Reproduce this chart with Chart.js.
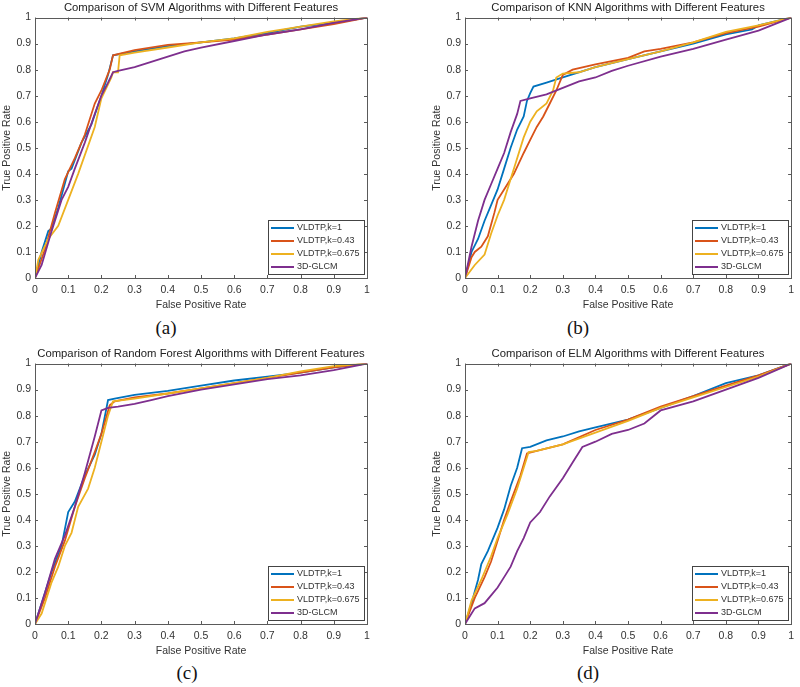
<!DOCTYPE html>
<html>
<head>
<meta charset="utf-8">
<script src="https://cdn.jsdelivr.net/npm/chart.js@4.4.0/dist/chart.umd.min.js"></script>
<style>
  body { margin: 0; background: #fff; width: 800px; height: 687px; position: relative; overflow: hidden; }
  .panel { position: absolute; width: 400px; height: 315px; }
  .cap { position: absolute; font-family: "Liberation Serif", "Times New Roman", serif; font-size: 19px; color: #111; transform: translate(-50%, -50%); }
</style>
</head>
<body>
<div class="panel" style="left:0;top:0"><canvas id="svm"></canvas></div>
<div class="panel" style="left:400px;top:0"><canvas id="knn"></canvas></div>
<div class="panel" style="left:0;top:346px"><canvas id="rf"></canvas></div>
<div class="panel" style="left:400px;top:346px"><canvas id="elm"></canvas></div>
<div class="cap" style="left:166px;top:328px">(a)</div>
<div class="cap" style="left:578px;top:328px">(b)</div>
<div class="cap" style="left:187px;top:673px">(c)</div>
<div class="cap" style="left:588px;top:673px">(d)</div>

<script>
// legend names, same for all four plots
const seriesNames = ['VLDTP,k=1', 'VLDTP,k=0.43', 'VLDTP,k=0.675', '3D-GLCM'];
const seriesColors = ['#0072BD', '#D95319', '#EDB120', '#7E2F8E'];

// axis ticks (both axes)
const rateTicks = [0, 0.1, 0.2, 0.3, 0.4, 0.5, 0.6, 0.7, 0.8, 0.9, 1];
const rateLabels = ['0', '0.1', '0.2', '0.3', '0.4', '0.5', '0.6', '0.7', '0.8', '0.9', '1'];

// ROC points [false positive rate, true positive rate]

// (a) SVM
const svmK1 = [[0,0],[0.02,0.1],[0.04,0.18],[0.05,0.19],[0.07,0.27],[0.1,0.41],[0.11,0.42],[0.14,0.52],[0.17,0.59],[0.2,0.7],[0.22,0.78],[0.235,0.855],[0.3,0.87],[0.4,0.89],[0.5,0.905],[0.6,0.92],[0.7,0.94],[0.8,0.965],[0.9,0.98],[1,1]];
const svmK043 = [[0,0],[0.03,0.11],[0.06,0.25],[0.09,0.38],[0.12,0.46],[0.15,0.55],[0.18,0.67],[0.2,0.72],[0.225,0.8],[0.235,0.855],[0.3,0.875],[0.4,0.895],[0.5,0.905],[0.6,0.915],[0.7,0.935],[0.8,0.955],[0.9,0.975],[1,1]];
const svmK0675 = [[0,0],[0.01,0.07],[0.04,0.15],[0.07,0.2],[0.1,0.3],[0.13,0.4],[0.18,0.58],[0.2,0.69],[0.23,0.77],[0.235,0.79],[0.25,0.79],[0.255,0.855],[0.3,0.865],[0.4,0.885],[0.5,0.905],[0.6,0.92],[0.7,0.945],[0.8,0.965],[0.9,0.985],[1,1]];
const svmGlcm = [[0,0],[0.02,0.05],[0.05,0.18],[0.08,0.3],[0.1,0.35],[0.12,0.42],[0.15,0.52],[0.18,0.63],[0.2,0.7],[0.22,0.75],[0.235,0.79],[0.25,0.795],[0.3,0.81],[0.35,0.83],[0.4,0.85],[0.45,0.87],[0.5,0.885],[0.6,0.91],[0.7,0.935],[0.8,0.955],[0.9,0.98],[1,1]];

// (b) KNN
const knnK1 = [[0,0],[0.02,0.1],[0.04,0.15],[0.06,0.22],[0.08,0.28],[0.1,0.34],[0.12,0.42],[0.14,0.5],[0.16,0.57],[0.18,0.62],[0.19,0.68],[0.2,0.71],[0.21,0.735],[0.25,0.75],[0.3,0.77],[0.4,0.81],[0.5,0.84],[0.6,0.87],[0.7,0.9],[0.8,0.935],[0.88,0.955],[0.9,0.97],[1,1]];
const knnK043 = [[0,0],[0.02,0.08],[0.03,0.1],[0.05,0.12],[0.07,0.16],[0.09,0.25],[0.1,0.3],[0.12,0.34],[0.15,0.4],[0.18,0.48],[0.2,0.53],[0.22,0.58],[0.24,0.62],[0.26,0.67],[0.28,0.72],[0.3,0.78],[0.33,0.8],[0.4,0.82],[0.5,0.845],[0.55,0.87],[0.6,0.88],[0.7,0.905],[0.8,0.94],[0.9,0.965],[1,1]];
const knnK0675 = [[0,0],[0.03,0.05],[0.06,0.09],[0.08,0.17],[0.1,0.24],[0.12,0.3],[0.14,0.38],[0.16,0.46],[0.18,0.54],[0.2,0.6],[0.22,0.64],[0.25,0.67],[0.27,0.72],[0.28,0.77],[0.3,0.785],[0.35,0.79],[0.4,0.81],[0.5,0.84],[0.6,0.87],[0.7,0.905],[0.8,0.945],[0.9,0.97],[1,1]];
const knnGlcm = [[0,0],[0.02,0.12],[0.04,0.22],[0.06,0.3],[0.08,0.36],[0.1,0.42],[0.12,0.48],[0.14,0.56],[0.16,0.63],[0.17,0.68],[0.2,0.69],[0.25,0.705],[0.3,0.73],[0.35,0.755],[0.4,0.77],[0.45,0.795],[0.5,0.815],[0.6,0.85],[0.7,0.88],[0.8,0.915],[0.9,0.95],[1,1]];

// (c) Random Forest
const rfK1 = [[0,0],[0.02,0.08],[0.05,0.2],[0.08,0.3],[0.1,0.43],[0.12,0.47],[0.15,0.57],[0.18,0.65],[0.2,0.73],[0.22,0.86],[0.24,0.865],[0.3,0.88],[0.4,0.895],[0.5,0.915],[0.6,0.935],[0.7,0.95],[0.8,0.965],[0.9,0.985],[1,1]];
const rfK043 = [[0,0],[0.03,0.1],[0.06,0.22],[0.09,0.32],[0.12,0.45],[0.15,0.56],[0.18,0.66],[0.2,0.73],[0.225,0.84],[0.24,0.855],[0.3,0.87],[0.4,0.885],[0.5,0.905],[0.6,0.925],[0.7,0.945],[0.8,0.965],[0.9,0.985],[1,1]];
const rfK0675 = [[0,0],[0.02,0.04],[0.05,0.16],[0.07,0.22],[0.09,0.3],[0.11,0.35],[0.13,0.45],[0.16,0.52],[0.18,0.6],[0.2,0.7],[0.22,0.8],[0.235,0.855],[0.3,0.865],[0.4,0.885],[0.5,0.905],[0.6,0.925],[0.7,0.945],[0.8,0.97],[0.9,0.99],[1,1]];
const rfGlcm = [[0,0],[0.03,0.12],[0.06,0.25],[0.09,0.34],[0.12,0.45],[0.15,0.58],[0.18,0.72],[0.2,0.82],[0.22,0.83],[0.25,0.835],[0.3,0.845],[0.35,0.86],[0.4,0.875],[0.5,0.9],[0.6,0.92],[0.7,0.94],[0.8,0.955],[0.9,0.975],[1,1]];

// (d) ELM
const elmK1 = [[0,0],[0.02,0.08],[0.04,0.17],[0.05,0.23],[0.07,0.28],[0.1,0.37],[0.12,0.44],[0.14,0.53],[0.16,0.6],[0.175,0.675],[0.2,0.68],[0.25,0.705],[0.3,0.72],[0.35,0.74],[0.4,0.755],[0.5,0.785],[0.6,0.83],[0.7,0.875],[0.8,0.925],[0.9,0.955],[1,1]];
const elmK043 = [[0,0],[0.03,0.1],[0.06,0.18],[0.08,0.24],[0.1,0.32],[0.12,0.4],[0.14,0.47],[0.17,0.57],[0.19,0.655],[0.22,0.665],[0.3,0.69],[0.4,0.745],[0.5,0.785],[0.6,0.835],[0.7,0.875],[0.8,0.915],[0.9,0.955],[1,1]];
const elmK0675 = [[0,0],[0.02,0.09],[0.05,0.17],[0.08,0.26],[0.1,0.33],[0.13,0.42],[0.16,0.52],[0.18,0.6],[0.195,0.66],[0.22,0.665],[0.3,0.69],[0.4,0.735],[0.5,0.78],[0.6,0.83],[0.7,0.87],[0.8,0.91],[0.9,0.95],[1,1]];
const elmGlcm = [[0,0],[0.02,0.04],[0.03,0.06],[0.06,0.08],[0.08,0.11],[0.1,0.14],[0.12,0.18],[0.14,0.22],[0.16,0.28],[0.18,0.33],[0.2,0.39],[0.23,0.43],[0.26,0.49],[0.3,0.56],[0.33,0.62],[0.36,0.68],[0.4,0.7],[0.45,0.73],[0.5,0.745],[0.55,0.77],[0.6,0.82],[0.7,0.855],[0.8,0.9],[0.9,0.945],[1,1]];

const FONT = '"Liberation Sans", Arial, sans-serif';
const AXIS_COLOR = '#5a5a5a';
const TEXT_COLOR = '#333';

// matlab-like box with inward ticks + legend in lower right
const matlabAxes = {
  id: 'matlabAxes',
  afterDatasetsDraw(chart) {
    const ctx = chart.ctx;
    const a = chart.chartArea;
    const xs = chart.scales.x, ys = chart.scales.y;
    ctx.save();
    ctx.strokeStyle = AXIS_COLOR;
    ctx.lineWidth = 1;
    ctx.strokeRect(Math.round(a.left) + 0.5, Math.round(a.top) + 0.5, Math.round(a.right - a.left), Math.round(a.bottom - a.top));
    ctx.beginPath();
    rateTicks.forEach(v => {
      const px = Math.round(xs.getPixelForValue(v)) + 0.5;
      ctx.moveTo(px, a.bottom); ctx.lineTo(px, a.bottom - 3);
      ctx.moveTo(px, a.top); ctx.lineTo(px, a.top + 3);
      const py = Math.round(ys.getPixelForValue(v)) + 0.5;
      ctx.moveTo(a.left, py); ctx.lineTo(a.left + 3, py);
      ctx.moveTo(a.right, py); ctx.lineTo(a.right - 3, py);
    });
    ctx.stroke();

    // legend
    ctx.font = '9px ' + FONT;
    let tw = 0;
    seriesNames.forEach(n => { tw = Math.max(tw, ctx.measureText(n).width); });
    const rowH = 13, lineLen = 23;
    const w = Math.round(3 + lineLen + 3 + tw + 4), h = rowH * seriesNames.length + 2;
    const bx = Math.round(a.right - 3 - w), by = Math.round(a.bottom - 4 - h);
    ctx.fillStyle = '#fff';
    ctx.fillRect(bx, by, w, h);
    ctx.strokeStyle = '#444';
    ctx.strokeRect(bx + 0.5, by + 0.5, w, h);
    ctx.textBaseline = 'middle';
    chart.data.datasets.forEach((ds, i) => {
      const cy = by + 1 + rowH * i + rowH / 2 + 0.5;
      ctx.strokeStyle = ds.borderColor;
      ctx.lineWidth = 2;
      ctx.beginPath();
      ctx.moveTo(bx + 3, cy); ctx.lineTo(bx + 3 + lineLen, cy);
      ctx.stroke();
      ctx.fillStyle = TEXT_COLOR;
      ctx.fillText(ds.label, bx + 3 + lineLen + 3, cy);
    });
    ctx.restore();
  }
};

function makeChart(id, title, curves, padLeft, padRight) {
  const datasets = curves.map((pts, i) => ({
    label: seriesNames[i],
    data: pts.map(p => ({ x: p[0], y: p[1] })),
    borderColor: seriesColors[i],
    backgroundColor: seriesColors[i],
    borderWidth: 1.8,
    pointRadius: 0,
    tension: 0,
    order: curves.length - i
  }));
  const axis = (label, isX) => ({
    type: 'linear',
    min: 0,
    max: 1,
    afterBuildTicks: s => { s.ticks = rateTicks.map(v => ({ value: v })); },
    afterFit: s => { if (isX) s.height = 37; else s.width = 35; },
    grid: { display: false, drawTicks: false },
    border: { display: false },
    ticks: {
      padding: isX ? 6 : 4,
      color: TEXT_COLOR,
      font: { size: 10.5, family: FONT },
      maxRotation: 0,
      autoSkip: false,
      callback: (v, idx) => rateLabels[idx]
    },
    title: {
      display: true,
      text: label,
      color: TEXT_COLOR,
      font: { size: 10.5, family: FONT },
      padding: isX ? { top: 0, bottom: 4 } : { top: 1, bottom: 0 }
    }
  });
  return new Chart(document.getElementById(id), {
    type: 'line',
    data: { datasets: datasets },
    options: {
      responsive: true,
      maintainAspectRatio: false,
      animation: false,
      layout: { padding: { left: padLeft, right: padRight, top: 0, bottom: 0 } },
      plugins: {
        legend: { display: false },
        tooltip: { enabled: false },
        title: {
          display: true,
          text: title,
          fullSize: false,
          color: '#222',
          font: { size: 11.3, family: FONT, weight: 'normal' },
          padding: { top: 1, bottom: 3 }
        }
      },
      scales: {
        x: axis('False Positive Rate', true),
        y: axis('True Positive Rate', false)
      }
    },
    plugins: [matlabAxes]
  });
}

makeChart('svm', 'Comparison of SVM Algorithms with Different Features', [svmK1, svmK043, svmK0675, svmGlcm], 0, 33);
makeChart('knn', 'Comparison of KNN Algorithms with Different Features', [knnK1, knnK043, knnK0675, knnGlcm], 30, 4);
makeChart('rf', 'Comparison of Random Forest Algorithms with Different Features', [rfK1, rfK043, rfK0675, rfGlcm], 0, 33);
makeChart('elm', 'Comparison of ELM Algorithms with Different Features', [elmK1, elmK043, elmK0675, elmGlcm], 30, 4);
</script>
</body>
</html>
